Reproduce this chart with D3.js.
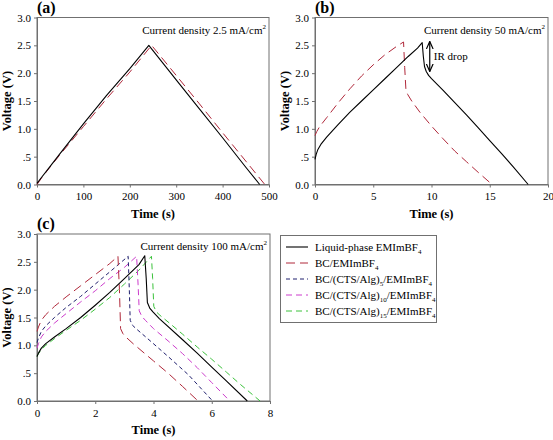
<!DOCTYPE html>
<html>
<head>
<meta charset="utf-8">
<script src="https://cdn.jsdelivr.net/npm/d3@7"></script>
<style>
  html, body { margin: 0; padding: 0; background: #fff; }
  svg { display: block; }
</style>
</head>
<body>
<svg id="chart" width="553" height="440"></svg>
<script>
// ---------------- DATA ----------------
const yTicks = [0, 0.5, 1.0, 1.5, 2.0, 2.5, 3.0];
const yTickLabels = ["0.0", ".5", "1.0", "1.5", "2.0", "2.5", "3.0"];
const xTicksA = [0, 100, 200, 300, 400, 500];
const xTicksB = [0, 5, 10, 15, 20];
const xTicksC = [0, 2, 4, 6, 8];

const seriesNames = ["Liquid-phase EMImBF4", "BC/EMImBF4", "BC/(CTS/Alg)5/EMImBF4", "BC/(CTS/Alg)10/EMImBF4", "BC/(CTS/Alg)15/EMImBF4"];

// Panel (a): current density 2.5 mA/cm2  [time (s), voltage (V)]
const aLiquid = [[0,0.02],[10,0.13],[25,0.29],[50,0.56],[100,1.09],[150,1.6],[200,2.08],[241,2.5],[300,1.88],[350,1.36],[400,0.84],[450,0.31],[480,0]];
const aBC = [[0,0],[10,0.12],[25,0.28],[50,0.54],[100,1.04],[150,1.54],[200,2.02],[247,2.5],[300,1.96],[350,1.45],[400,0.93],[450,0.42],[491,0]];

// Panel (b): current density 50 mA/cm2
const bLiquid = [[0,0.45],[0.1,0.54],[0.25,0.63],[0.5,0.72],[1,0.85],[2,1.08],[3,1.3],[4,1.5],[5,1.7],[6,1.9],[7,2.1],[8,2.3],[8.8,2.45],[9.2,2.55],[9.3,2.3],[9.4,2.12],[9.55,2.03],[9.75,1.96],[10,1.9],[11,1.69],[12,1.47],[13,1.25],[14,1.02],[15,0.79],[16,0.56],[17,0.32],[18.3,0]];
const bBC = [[0,0.88],[0.15,0.95],[0.4,1.04],[1,1.2],[2,1.47],[3,1.72],[4,1.95],[5,2.15],[6,2.33],[7,2.48],[7.6,2.56],[7.7,2.1],[7.8,1.72],[7.95,1.62],[8.3,1.5],[9,1.3],[10,1.05],[11,0.82],[12,0.6],[13,0.41],[14,0.22],[15.2,0]];

// Panel (c): current density 100 mA/cm2
const cLiquid = [[0,0.8],[0.05,0.86],[0.15,0.95],[0.3,1.03],[0.6,1.15],[1,1.3],[1.5,1.5],[2,1.72],[2.5,1.95],[3,2.2],[3.5,2.45],[3.7,2.61],[3.75,2.2],[3.79,1.77],[3.87,1.67],[3.98,1.6],[4.2,1.48],[5,1.1],[5.5,0.86],[6,0.61],[6.5,0.36],[7.22,0]];
const cBC = [[0,1.25],[0.05,1.33],[0.15,1.45],[0.3,1.55],[0.6,1.7],[1,1.87],[1.5,2.07],[2,2.27],[2.5,2.47],[2.78,2.6],[2.83,2.0],[2.87,1.3],[2.95,1.21],[3.05,1.15],[3.3,1.03],[4,0.72],[4.5,0.5],[5,0.26],[5.53,0]];
const cCTS5 = [[0,1.05],[0.05,1.13],[0.15,1.25],[0.3,1.35],[0.6,1.5],[1,1.68],[1.5,1.88],[2,2.1],[2.5,2.32],[3.13,2.6],[3.17,2.0],[3.2,1.45],[3.28,1.36],[3.4,1.3],[3.8,1.12],[4.5,0.8],[5.2,0.47],[6.03,0]];
const cCTS10 = [[0,0.95],[0.05,1.03],[0.15,1.15],[0.3,1.25],[0.6,1.4],[1,1.57],[1.5,1.78],[2,1.98],[2.5,2.2],[3,2.4],[3.42,2.6],[3.47,2.1],[3.51,1.62],[3.6,1.52],[3.72,1.45],[4,1.3],[4.5,1.08],[5,0.85],[5.5,0.6],[6,0.33],[6.62,0]];
const cCTS15 = [[0,0.8],[0.05,0.85],[0.15,0.92],[0.3,1.0],[0.6,1.12],[1,1.27],[1.5,1.45],[2,1.65],[2.5,1.86],[3,2.1],[3.5,2.35],[3.93,2.6],[3.97,2.2],[4.01,1.7],[4.1,1.6],[4.22,1.54],[4.5,1.42],[5,1.2],[5.5,0.97],[6,0.75],[6.5,0.52],[7,0.29],[7.66,0]];

// IR drop arrow in panel (b): [time, V from, V to]
const irDrop = [9.85, 2.57, 2.03];

// ---------------- STYLES ----------------
const styles = [
  { color: "#000000", dash: null, width: 1.1 },
  { color: "#b0283a", dash: "9,5", width: 1 },
  { color: "#20206e", dash: "4,3", width: 1 },
  { color: "#cc3ccc", dash: "6,4", width: 1 },
  { color: "#3cc23c", dash: "6,4", width: 1 }
];

const svg = d3.select("#chart");
const frameColor = "#707070";
const FONT = "Liberation Serif";

function drawPanel(cfg) {
  const x = d3.scaleLinear().domain(cfg.xDomain).range([cfg.x0, cfg.x1]);
  const y = d3.scaleLinear().domain([0, 3]).range([cfg.y1, cfg.y0]);
  const g = svg.append("g");

  g.append("rect").attr("x", cfg.x0).attr("y", cfg.y0)
    .attr("width", cfg.x1 - cfg.x0).attr("height", cfg.y1 - cfg.y0)
    .attr("fill", "none").attr("stroke", frameColor).attr("stroke-width", 1);

  const xAxis = d3.axisBottom(x).tickValues(cfg.xTicks).tickSize(3).tickSizeOuter(0).tickPadding(5).tickFormat(d3.format("d"));
  const gx = g.append("g").attr("transform", `translate(0,${cfg.y1})`).call(xAxis);
  const yAxis = d3.axisLeft(y).tickValues(yTicks).tickSize(3).tickSizeOuter(0).tickPadding(3)
    .tickFormat((d, i) => yTickLabels[i]);
  const gy = g.append("g").attr("transform", `translate(${cfg.x0},0)`).call(yAxis);
  [gx, gy].forEach(a => {
    a.select(".domain").attr("stroke", frameColor);
    a.selectAll(".tick line").attr("stroke", frameColor);
    a.selectAll(".tick text").style("font-size", "11px").attr("fill", "#000");
  });

  const line = d3.line().x(d => x(d[0])).y(d => y(d[1])).curve(d3.curveLinear);
  cfg.series.slice().reverse().forEach(s => {
    const st = styles[s.style];
    g.append("path").datum(s.data).attr("d", line)
      .attr("fill", "none").attr("stroke", st.color)
      .attr("stroke-width", st.width)
      .attr("stroke-dasharray", st.dash)
      .attr("stroke-linejoin", "round");
  });

  g.append("text").attr("x", (cfg.x0 + cfg.x1) / 2).attr("y", cfg.y1 + 33)
    .attr("text-anchor", "middle").style("font-weight", "bold").style("font-size", "12.5px").text("Time (s)");
  g.append("text").attr("transform", `translate(${cfg.x0 - 26},${(cfg.y0 + cfg.y1) / 2}) rotate(-90)`)
    .attr("text-anchor", "middle").style("font-weight", "bold").style("font-size", "12.5px").text("Voltage (V)");

  g.append("text").attr("x", cfg.x0).attr("y", cfg.y0 - 5)
    .style("font-weight", "bold").style("font-size", "16px").text(cfg.label);

  const t = g.append("text").attr("x", cfg.x1 - 3).attr("y", cfg.y0 + 16)
    .attr("text-anchor", "end").style("font-size", "11px");
  t.append("tspan").text(cfg.density);
  t.append("tspan").attr("dy", -5).style("font-size", "7px").text("2");

  return { x, y, g };
}

const pA = drawPanel({ label: "(a)", x0: 37, x1: 269, y0: 17.5, y1: 184.5, xDomain: [0, 500], xTicks: xTicksA,
  density: "Current density 2.5 mA/cm", series: [{ data: aLiquid, style: 0 }, { data: aBC, style: 1 }] });
const pB = drawPanel({ label: "(b)", x0: 315, x1: 548, y0: 17.5, y1: 184.5, xDomain: [0, 20], xTicks: xTicksB,
  density: "Current density 50 mA/cm", series: [{ data: bLiquid, style: 0 }, { data: bBC, style: 1 }] });
const pC = drawPanel({ label: "(c)", x0: 37, x1: 270, y0: 234, y1: 401, xDomain: [0, 8], xTicks: xTicksC,
  density: "Current density 100 mA/cm", series: [
    { data: cLiquid, style: 0 }, { data: cBC, style: 1 }, { data: cCTS5, style: 2 }, { data: cCTS10, style: 3 }, { data: cCTS15, style: 4 }] });

// IR drop arrow
const defs = svg.append("defs");
defs.append("marker").attr("id", "ah").attr("viewBox", "0 0 10 10").attr("refX", 9).attr("refY", 5)
  .attr("markerWidth", 7).attr("markerHeight", 7).attr("orient", "auto-start-reverse")
  .append("path").attr("d", "M0,1 L9,5 L0,9").attr("fill", "none").attr("stroke", "#000").attr("stroke-width", 1.4);
pB.g.append("line")
  .attr("x1", pB.x(irDrop[0])).attr("x2", pB.x(irDrop[0]))
  .attr("y1", pB.y(irDrop[1])).attr("y2", pB.y(irDrop[2]))
  .attr("stroke", "#000").attr("stroke-width", 1.2)
  .attr("marker-start", "url(#ah)").attr("marker-end", "url(#ah)");
pB.g.append("text").attr("x", pB.x(irDrop[0]) + 4).attr("y", pB.y((irDrop[1] + irDrop[2]) / 2) + 4)
  .style("font-size", "11px").text("IR drop");

// Legend
const legend = svg.append("g");
legend.append("rect").attr("x", 280.5).attr("y", 235.5).attr("width", 156).attr("height", 87)
  .attr("fill", "#fff").attr("stroke", frameColor);
const legendParts = [
  [["Liquid-phase EMImBF", 0], ["4", 1]],
  [["BC/EMImBF", 0], ["4", 1]],
  [["BC/(CTS/Alg)", 0], ["5", 1], ["/EMImBF", 0], ["4", 1]],
  [["BC/(CTS/Alg)", 0], ["10", 1], ["/EMImBF", 0], ["4", 1]],
  [["BC/(CTS/Alg)", 0], ["15", 1], ["/EMImBF", 0], ["4", 1]]
];
const ly = d3.scalePoint().domain(seriesNames).range([247, 311]);
seriesNames.forEach((name, i) => {
  const st = styles[i];
  const yy = ly(name);
  legend.append("line").attr("x1", 286).attr("x2", 308).attr("y1", yy).attr("y2", yy)
    .attr("stroke", st.color).attr("stroke-width", st.width).attr("stroke-dasharray", st.dash);
  const t = legend.append("text").attr("x", 315).attr("y", yy + 4).style("font-size", "11px");
  let prevSub = false;
  legendParts[i].forEach(([s, sub]) => {
    const ts = t.append("tspan").text(s);
    if (sub) { ts.style("font-size", "7px").attr("dy", 3); prevSub = true; }
    else if (prevSub) { ts.attr("dy", -3); prevSub = false; }
  });
});

// apply serif font to all text
svg.selectAll("text").style("font-family", FONT).style("fill", "#000");
</script>
</body>
</html>
